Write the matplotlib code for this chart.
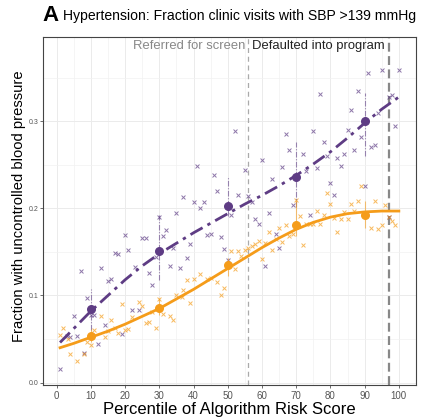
import numpy as np
import matplotlib.pyplot as plt

plt.rcParams['font.family'] = ['Liberation Sans', 'DejaVu Sans']

PURPLE = '#5e3c84'
ORANGE = '#f59c1a'

# visit-level points (percentile, fraction)
purple_x = [1, 3, 4, 5, 6, 7, 8, 9, 10, 11, 12, 13, 14, 15, 16, 17, 18, 19, 20, 21,
            22, 23, 24, 25, 26, 27, 28, 29, 30, 31, 32, 33, 34, 35, 36, 37, 38, 39, 40,
            41, 42, 43, 44, 45, 46, 47, 48, 49, 50, 51, 52, 53, 55, 56, 57, 58, 59, 60,
            61, 62, 63, 64, 65, 66, 67, 68, 69, 72, 73, 74, 75, 76, 77, 78, 79, 80, 81,
            82, 83, 84, 85, 86, 87, 88, 89, 90, 91, 92, 93, 94, 95, 97, 97, 98, 99, 100]
purple_y = [0.016, 0.054, 0.0525, 0.076, 0.053, 0.128, 0.034, 0.097, 0.078, 0.078,
            0.0445, 0.131, 0.066, 0.117, 0.1195, 0.149, 0.1475, 0.056, 0.169, 0.1525,
            0.083, 0.133, 0.083, 0.166, 0.166, 0.126, 0.112, 0.1437, 0.19, 0.168,
            0.1755, 0.134, 0.155, 0.1947, 0.1318, 0.2127, 0.1433, 0.1587, 0.2073,
            0.249, 0.201, 0.2073, 0.17, 0.171, 0.2387, 0.2195, 0.167, 0.153, 0.141,
            0.1928, 0.2885, 0.2154, 0.2445, 0.2138, 0.207, 0.188, 0.1816, 0.256,
            0.1333, 0.1947, 0.2338, 0.171, 0.155, 0.248, 0.286, 0.267, 0.204, 0.2625,
            0.2425, 0.1928, 0.289, 0.247, 0.332, 0.2767, 0.26, 0.229, 0.2157, 0.258,
            0.249, 0.2629, 0.29, 0.3126, 0.2667, 0.3345, 0.282, 0.226, 0.356, 0.271,
            0.273, 0.3096, 0.3586, 0.328, 0.19, 0.3307, 0.295, 0.3594]

orange_x = [1, 2, 3.4, 4, 6, 8, 9, 10, 11, 13, 14, 15, 16, 17, 18, 19, 20, 21, 22, 24,
            25, 26, 27, 28, 29, 30, 31, 33, 34, 35, 36.6, 37, 38, 39, 40, 42, 44, 45, 47,
            48, 49, 51, 52, 53, 54, 55, 56, 57, 58, 59, 60, 61, 62, 63, 64, 65, 66, 67,
            68, 69, 70, 71, 72, 73, 74, 75, 76, 77, 78, 79, 80, 81, 82, 83, 84, 85, 86,
            87, 88, 89, 92, 93, 94, 95, 96, 97, 98, 99]
orange_y = [0.055, 0.063, 0.050, 0.033, 0.025, 0.033, 0.047, 0.043, 0.060, 0.076,
            0.0525, 0.0587, 0.072, 0.063, 0.057, 0.090, 0.0605, 0.062, 0.075, 0.092,
            0.0874, 0.068, 0.070, 0.0805, 0.063, 0.096, 0.0786, 0.076, 0.072, 0.101,
            0.098, 0.1065, 0.118, 0.091, 0.119, 0.1246, 0.119, 0.12, 0.116, 0.101,
            0.109, 0.1506, 0.1307, 0.151, 0.1456, 0.1525, 0.154, 0.157, 0.159, 0.163,
            0.142, 0.160, 0.1724, 0.1517, 0.165, 0.1775, 0.162, 0.181, 0.1686, 0.171,
            0.21, 0.1916, 0.158, 0.182, 0.182, 0.182, 0.1966, 0.182, 0.1928, 0.2177,
            0.2054, 0.189, 0.1724, 0.188, 0.1955, 0.188, 0.2054, 0.1966, 0.208, 0.226,
            0.178, 0.208, 0.176, 0.181, 0.2035, 0.19, 0.186, 0.181]

# decile means with intervals
bin_x = [10, 30, 50, 70, 90]
purple_mean = [0.0847, 0.1506, 0.2023, 0.236, 0.3008]
purple_lo = [0.060, 0.118, 0.191, 0.202, 0.260]
purple_hi = [0.108, 0.192, 0.237, 0.276, 0.333]
orange_mean = [0.0537, 0.0855, 0.1345, 0.1805, 0.1924]
orange_lo = [0.046, 0.078, 0.122, 0.168, 0.178]
orange_hi = [0.062, 0.097, 0.143, 0.210, 0.208]

# smoothed fits
fit_x = [1, 5, 10, 15, 20, 25, 30, 35, 40, 45, 50, 55, 60, 65, 70, 75, 80, 85, 90, 95, 100]
purple_fit = [0.046, 0.062, 0.082, 0.100, 0.118, 0.134, 0.148, 0.160, 0.172, 0.183, 0.194,
              0.205, 0.215, 0.226, 0.238, 0.251, 0.265, 0.281, 0.298, 0.314, 0.328]
orange_fit = [0.040, 0.045, 0.052, 0.059, 0.067, 0.076, 0.085, 0.096, 0.107, 0.119, 0.131,
              0.143, 0.155, 0.166, 0.176, 0.184, 0.190, 0.194, 0.196, 0.197, 0.197]

fig = plt.figure(figsize=(4.21, 4.20), dpi=100)
ax = fig.add_axes([0.102, 0.083, 0.886, 0.829])

ax.scatter(purple_x, purple_y, marker='x', s=8, lw=0.7, color=PURPLE, alpha=0.7, zorder=3)
ax.scatter(orange_x, orange_y, marker='x', s=8, lw=0.7, color=ORANGE, alpha=0.7, zorder=3)

ax.vlines(bin_x, purple_lo, purple_hi, color=PURPLE, lw=0.8, alpha=0.6,
          linestyles=(0, (5, 1.5, 1, 1.5)), zorder=4)
ax.vlines(bin_x, orange_lo, orange_hi, color=ORANGE, lw=0.8, alpha=0.6, zorder=4)

ax.plot(fit_x, purple_fit, color=PURPLE, lw=2, ls=(0, (5, 2, 1.2, 2)), zorder=5)
ax.plot(fit_x, orange_fit, color=ORANGE, lw=2, zorder=5)

ax.scatter(bin_x, purple_mean, s=30, color=PURPLE, zorder=6)
ax.scatter(bin_x, orange_mean, s=30, color=ORANGE, zorder=6)

ax.axvline(56, color='#aaaaaa', lw=0.9, ls=(0, (4, 3)), zorder=2)
ax.axvline(97, color='#888888', lw=1.6, ls=(0, (4, 2)), zorder=2)

ax.text(55.2, 0.387, 'Referred for screen', ha='right', va='center', fontsize=9.4, color='#888888')
ax.text(57, 0.387, 'Defaulted into program', ha='left', va='center', fontsize=9.4, color='#222222')

ax.set_xlim(-4, 105)
ax.set_ylim(-0.003, 0.397)
ax.set_xticks(range(0, 101, 10))
ax.set_xticks(range(5, 101, 10), minor=True)
ax.set_yticks([0.0, 0.1, 0.2, 0.3])
ax.set_yticks([0.05, 0.15, 0.25, 0.35], minor=True)
ax.set_yticklabels(['0.0', '0.1', '0.2', '0.3'])
ax.tick_params(axis='y', which='major', labelsize=5, colors='#555555', length=2, width=0.6, pad=1)
ax.tick_params(axis='x', which='major', labelsize=7, colors='#555555', length=2, width=0.6, pad=2)
ax.tick_params(which='minor', length=0)
ax.grid(which='major', color='#ebebeb', lw=0.7)
ax.grid(which='minor', color='#f2f2f2', lw=0.5)
ax.set_axisbelow(True)
for s in ax.spines.values():
    s.set_color('#444444')
    s.set_linewidth(0.8)

ax.set_xlabel('Percentile of Algorithm Risk Score', fontsize=12, labelpad=1)
ax.set_ylabel('Fraction with uncontrolled blood pressure', fontsize=10.6)
ax.yaxis.set_label_coords(-0.046, 0.515)

fig.text(0.100, 0.963, 'A', fontsize=16, fontweight='bold', va='center', ha='left')
fig.text(0.150, 0.961, 'Hypertension: Fraction clinic visits with SBP >139 mmHg', fontsize=10.1,
         va='center', ha='left')

fig.savefig('out.png', dpi=100)
